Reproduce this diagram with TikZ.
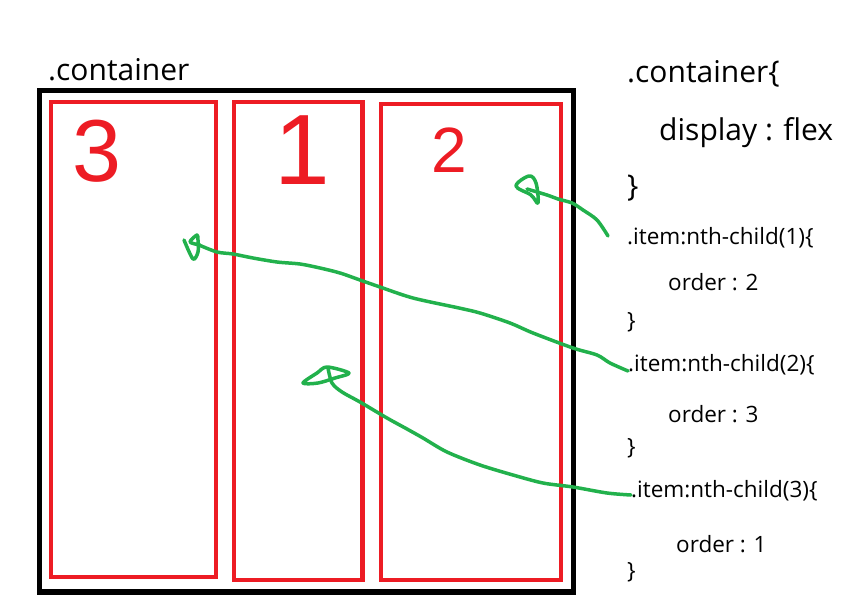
\documentclass[tikz,border=0pt]{standalone}
\usepackage{fontspec}
\setmainfont{Open Sans}
\newfontfamily\handfont{Liberation Sans}
\usepackage{tikz}
\definecolor{paintred}{RGB}{237,28,36}
\definecolor{paintgreen}{RGB}{34,177,76}

\begin{document}
\begin{tikzpicture}[x=1pt,y=-1pt,
  outerbox/.style={draw=black,line width=5.5pt,inner sep=0pt},
  redbox/.style={draw=paintred,line width=4.5pt,inner sep=0pt},
  digit/.style={text=paintred,inner sep=0pt},
  bigcode/.style={anchor=base west,inner sep=0pt,font=\fontsize{30}{36}\selectfont},
  code/.style={anchor=base west,inner sep=0pt,font=\fontsize{22.5}{26}\selectfont},
  scribble/.style={draw=paintgreen,line width=3.5pt,line cap=round,line join=round}]
\useasboundingbox (0,0) rectangle (861,611);
\node[outerbox,minimum width=534pt,minimum height=501.5pt] (cont) at (306.5,341.25) {};
\node[redbox,minimum width=165.3pt,minimum height=475pt] (b3) at (133.4,339.5) {};
\node[redbox,minimum width=128.5pt,minimum height=478pt] (b1) at (298.25,341) {};
\node[redbox,minimum width=180pt,minimum height=476pt] (b2) at (471,342) {};
\node[digit,font=\handfont\fontsize{88}{88}\selectfont] (n3) at (97,151) {3};
\node[digit,font=\handfont\fontsize{100}{100}\selectfont] (n1) at (302,150) {1};
\node[digit,font=\handfont\fontsize{64}{64}\selectfont] (n2) at (449,150) {2};
\node[bigcode] (lbl) at (48,80) {.container};
\node[bigcode] (c0) at (627,82) {.container\{};
\node[bigcode] (c1) at (659,140) {display : flex};
\node[bigcode] (c2) at (627,196) {\}};
\node[code] (item1) at (627,244) {.item:nth-child(1)\{};
\node[code] (ord1) at (668,290) {order : 2};
\node[code] (e1) at (627,328) {\}};
\node[code] (item2) at (628,371) {.item:nth-child(2)\{};
\node[code] (ord2) at (668,422) {order : 3};
\node[code] (e2) at (627,454) {\}};
\node[code] (item3) at (631,497) {.item:nth-child(3)\{};
\node[code] (ord3) at (676,552) {order : 1};
\node[code] (e3) at (627,578) {\}};
\coordinate (h1) at (527,189);
\coordinate (h2) at (199,245);
\coordinate (h3) at (328,368);
\draw[scribble] plot[smooth] coordinates {([xshift=-19pt,yshift=8pt]item1.base west) (597,220) (583,210) (572,203) (558,199) (547,195) (h1)};
\draw[scribble] plot[smooth cycle,tension=0.6] coordinates {(516,186) (529,176) (536,183) (538,203) (531,195)};
\draw[scribble] plot[smooth] coordinates {(item2.base west) (610,363) (597,355) (573,348) (533,333) (510,323) (480,313) (459,308) (413,298) (380,287) (360,280) (340,273) (320,268) (300,264) (277,262) (253,258) (233,254) (217,252) (h2)};
\draw[scribble] plot[smooth,tension=0.5] coordinates {(184,240) (193,259) (198,252) (198,240) (197,235) (190,242) (200,245)};
\draw[scribble] plot[smooth] coordinates {([yshift=2pt]item3.base west) (607,493) (573,487) (543,483) (513,475) (480,465) (447,452) (423,438) (407,429) (387,418) (360,402) (342,392) (332,383) (h3)};
\draw[scribble] plot[smooth cycle,tension=0.5] coordinates {(303,383) (317,373) (327,367) (349,373) (335,378) (318,383)};
\end{tikzpicture}
\end{document}
